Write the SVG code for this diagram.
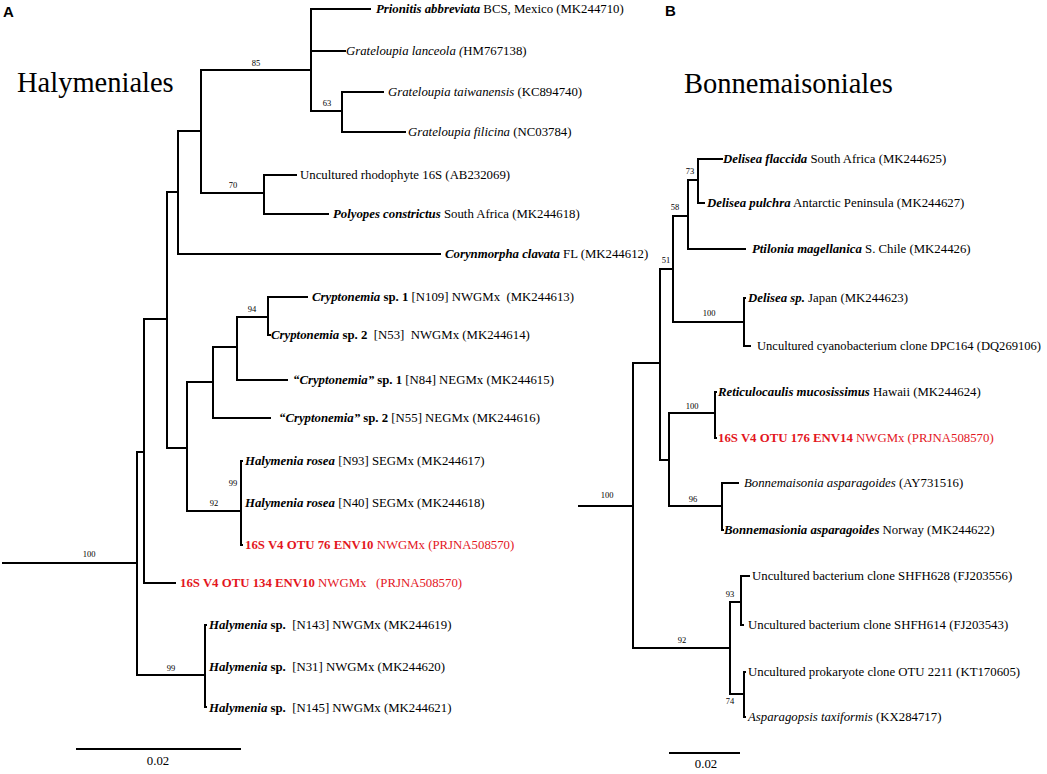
<svg xmlns="http://www.w3.org/2000/svg" width="1047" height="774" viewBox="0 0 1047 774">
<style>
text{font-family:"Liberation Serif","Times New Roman",serif;font-size:12.8px;fill:#000;white-space:pre}
.bi{font-weight:bold;font-style:italic}
.b{font-weight:bold}
.i{font-style:italic}
.bs{font-size:8.5px;text-anchor:middle}
.red{fill:#e3161e}
.ttl{font-size:28.5px}
.pl{font-family:"Liberation Sans",Arial,sans-serif;font-weight:bold;font-size:15px}
.br{fill:none;stroke:#000;stroke-width:2;stroke-linecap:square}
</style>
<rect width="1047" height="774" fill="#fff"/>
<text class="pl" x="3" y="17">A</text>
<text class="pl" x="665" y="16">B</text>
<text class="ttl" x="17" y="92">Halymeniales</text>
<text class="ttl" x="684" y="93">Bonnemaisoniales</text>
<g id="connectors" class="br">
<path d="M3,563 H137"/>
<path d="M144,452 H137 V675 H205"/>
<path d="M167,319 H144 V583 H175"/>
<path d="M178,192 H167 V448 H187"/>
<path d="M201,131 H178 V254 H440"/>
<path d="M311,70 H201 V193 H264"/>
<path d="M370,9 H311 V111 H342 M311,51 H345"/>
<path d="M383,92 H342 V132 H405"/>
<path d="M296,175 H264 V214 H328"/>
<path d="M213,382 H187 V511 H241"/>
<path d="M237,347 H213 V418 H270"/>
<path d="M268,317 H237 V380 H287"/>
<path d="M307,297 H268 V335 H270"/>
<path d="M242,461 H241 V545 H242"/>
<path d="M206,625 H205 V707 H206"/>
<path d="M77,749 H240"/>
<path d="M579,506 H633"/>
<path d="M660,363 H633 V648 H730"/>
<path d="M673,269 H660 V460 H669"/>
<path d="M688,216 H673 V322 H744"/>
<path d="M698,180 H688 V249 H745"/>
<path d="M722,159 H698 V203 H704"/>
<path d="M745,298 H744 V346 H750"/>
<path d="M715,413 H669 V506 H722"/>
<path d="M716,392 H715 V438 H716"/>
<path d="M738,483 H722 V530 H723"/>
<path d="M741,602 H730 V694 H744"/>
<path d="M749,576 H741 V625 H743"/>
<path d="M745,672 H744 V717 H745"/>
<path d="M670,753 H739"/>
</g>
<g id="bootstrap">
<text class="bs" x="256" y="66">85</text>
<text class="bs" x="327" y="106">63</text>
<text class="bs" x="233" y="188">70</text>
<text class="bs" x="252" y="312">94</text>
<text class="bs" x="233" y="486">99</text>
<text class="bs" x="214" y="506">92</text>
<text class="bs" x="89" y="557">100</text>
<text class="bs" x="171" y="671">99</text>
<text class="bs" x="690" y="174">73</text>
<text class="bs" x="675" y="210">58</text>
<text class="bs" x="666" y="263">51</text>
<text class="bs" x="709" y="316">100</text>
<text class="bs" x="692" y="409">100</text>
<text class="bs" x="693" y="502">96</text>
<text class="bs" x="607" y="498">100</text>
<text class="bs" x="730" y="597">93</text>
<text class="bs" x="682" y="643">92</text>
<text class="bs" x="730" y="704">74</text>
</g>
<g id="scale-A"><text x="158" y="765" text-anchor="middle">0.02</text></g>
<g id="scale-B"><text x="706" y="768" text-anchor="middle">0.02</text></g>
<g id="leaf-a1"><text x="376" y="13"><tspan class="bi">Prionitis abbreviata</tspan> BCS, Mexico (MK244710)</text></g>
<g id="leaf-a2"><text x="346" y="55"><tspan class="i">Grateloupia lanceola (</tspan>HM767138)</text></g>
<g id="leaf-a3"><text x="388" y="96"><tspan class="i">Grateloupia taiwanensis</tspan> (KC894740)</text></g>
<g id="leaf-a4"><text x="408" y="136"><tspan class="i">Grateloupia filicina</tspan> (NC03784)</text></g>
<g id="leaf-a5"><text x="300" y="179">Uncultured rhodophyte 16S (AB232069)</text></g>
<g id="leaf-a6"><text x="333" y="218"><tspan class="bi">Polyopes constrictus</tspan> South Africa (MK244618)</text></g>
<g id="leaf-a7"><text x="445" y="258"><tspan class="bi">Corynmorpha clavata</tspan> FL (MK244612)</text></g>
<g id="leaf-a8"><text x="312" y="301"><tspan class="bi">Cryptonemia</tspan><tspan class="b"> sp. 1</tspan> [N109] NWGMx  (MK244613)</text></g>
<g id="leaf-a9"><text x="271" y="339"><tspan class="bi">Cryptonemia</tspan><tspan class="b"> sp. 2</tspan>  [N53]  NWGMx (MK244614)</text></g>
<g id="leaf-a10"><text x="293" y="384"><tspan class="bi">“Cryptonemia”</tspan><tspan class="b"> sp. 1</tspan> [N84] NEGMx (MK244615)</text></g>
<g id="leaf-a11"><text x="279" y="422"><tspan class="bi">“Cryptonemia”</tspan><tspan class="b"> sp. 2</tspan> [N55] NEGMx (MK244616)</text></g>
<g id="leaf-a12"><text x="245" y="465"><tspan class="bi">Halymenia rosea</tspan> [N93] SEGMx (MK244617)</text></g>
<g id="leaf-a13"><text x="245" y="507"><tspan class="bi">Halymenia rosea</tspan> [N40] SEGMx (MK244618)</text></g>
<g id="leaf-a14"><text class="red" x="245" y="549"><tspan class="b">16S V4 OTU 76 ENV10</tspan> NWGMx (PRJNA508570)</text></g>
<g id="leaf-a15"><text class="red" x="180" y="587"><tspan class="b">16S V4 OTU 134 ENV10</tspan> NWGMx   (PRJNA508570)</text></g>
<g id="leaf-a16"><text x="209" y="629"><tspan class="bi">Halymenia</tspan><tspan class="b"> sp.</tspan>  [N143] NWGMx (MK244619)</text></g>
<g id="leaf-a17"><text x="209" y="671"><tspan class="bi">Halymenia</tspan><tspan class="b"> sp.</tspan>  [N31] NWGMx (MK244620)</text></g>
<g id="leaf-a18"><text x="209" y="712"><tspan class="bi">Halymenia</tspan><tspan class="b"> sp.</tspan>  [N145] NWGMx (MK244621)</text></g>
<g id="leaf-b1"><text x="723" y="163"><tspan class="bi">Delisea flaccida</tspan> South Africa (MK244625)</text></g>
<g id="leaf-b2"><text x="707" y="207"><tspan class="bi">Delisea pulchra</tspan> Antarctic Peninsula (MK244627)</text></g>
<g id="leaf-b3"><text x="752" y="253"><tspan class="bi">Ptilonia magellanica</tspan> S. Chile (MK24426)</text></g>
<g id="leaf-b4"><text x="748" y="302"><tspan class="bi">Delisea sp.</tspan> Japan (MK244623)</text></g>
<g id="leaf-b5"><text x="757" y="350" textLength="284" lengthAdjust="spacingAndGlyphs">Uncultured cyanobacterium clone DPC164 (DQ269106)</text></g>
<g id="leaf-b6"><text x="718" y="396"><tspan class="bi">Reticulocaulis mucosissimus</tspan> Hawaii (MK244624)</text></g>
<g id="leaf-b7"><text class="red" x="718" y="442"><tspan class="b">16S V4 OTU 176 ENV14</tspan> NWGMx (PRJNA508570)</text></g>
<g id="leaf-b8"><text x="744" y="487"><tspan class="i">Bonnemaisonia asparagoides</tspan> (AY731516)</text></g>
<g id="leaf-b9"><text x="724" y="534"><tspan class="bi">Bonnemasionia asparagoides</tspan> Norway (MK244622)</text></g>
<g id="leaf-b10"><text x="752" y="580">Uncultured bacterium clone SHFH628 (FJ203556)</text></g>
<g id="leaf-b11"><text x="748" y="629">Uncultured bacterium clone SHFH614 (FJ203543)</text></g>
<g id="leaf-b12"><text x="748" y="676">Uncultured prokaryote clone OTU 2211 (KT170605)</text></g>
<g id="leaf-b13"><text x="748" y="721"><tspan class="i">Asparagopsis taxiformis</tspan> (KX284717)</text></g>
</svg>
